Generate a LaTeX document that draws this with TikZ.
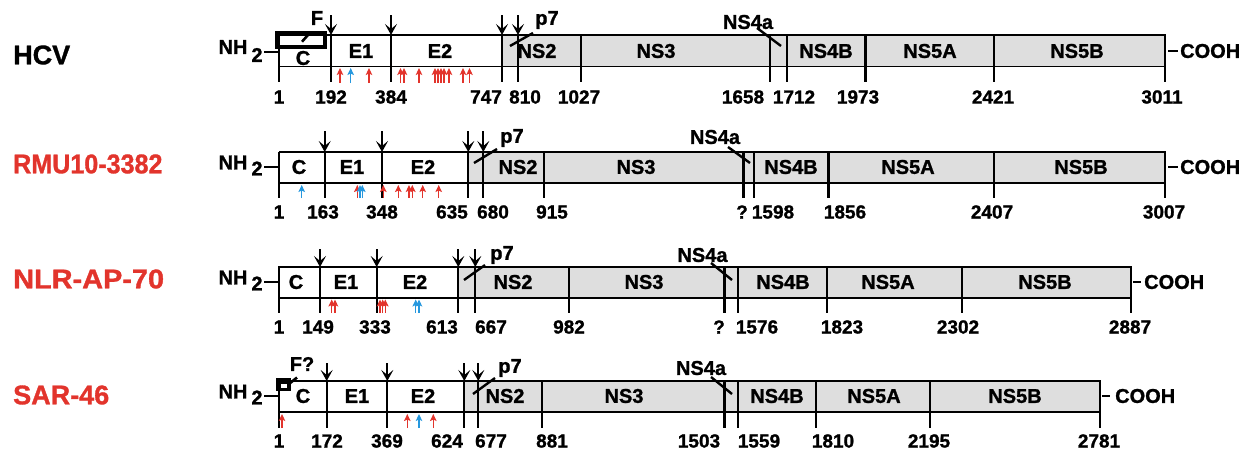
\documentclass[tikz,border=0pt]{standalone}
\usepackage{fontspec}
\setmainfont{Liberation Sans}[BoldFeatures={FakeBold=1.2}]
\usetikzlibrary{arrows.meta}
\definecolor{virred}{RGB}{226,52,44}
\definecolor{hitblue}{RGB}{38,152,222}
\definecolor{nsgray}{RGB}{222,222,222}

\begin{document}
\begin{tikzpicture}[x=1pt,y=-1pt,
  virus/.style={anchor=west,inner sep=0pt,font=\bfseries\fontsize{27}{27}\selectfont},
  dom/.style={inner sep=0pt,font=\bfseries\fontsize{20}{20}\selectfont},
  num/.style={inner sep=0pt,font=\bfseries\fontsize{19}{19}\selectfont},
  frame/.style={line width=1.6pt},
  bound/.style={line width=2.2pt},
  pointer/.style={line width=2.4pt},
  cleave/.style={line width=2.2pt,-{Stealth[length=11pt,width=12pt,inset=5pt]}},
  hit/.style={line width=1.4pt,-{Stealth[length=7pt,width=6.5pt,inset=1.5pt]}}]
\useasboundingbox (0,0) rectangle (1249,450);

%% HCV
\begin{scope}[shift={(0,35)}]
  \node[virus] (hcv) at (13,20) {HCV};
  \fill[nsgray] (502,0) rectangle (1165,31.5);
  \draw[frame] (279,0) rectangle (1165,31.5);
  \foreach \x in {279,331,391,502,518,581,770,787,865.5,994,1165}
    \draw[bound] (\x,0) -- (\x,47);
  \foreach \x/\t [count=\i] in {279/1,331/192,391/384,486/747,525/810,579/1027,743/1658,794/1712,858/1973,993/2421,1162/3011}
    \node[num] (hcv-n\i) at (\x,62) {\t};
  \foreach \x/\t [count=\i] in {361/E1,440/E2,537/NS2,656/NS3,826/NS4B,930/NS5A,1077/NS5B}
    \node[dom] (hcv-d\i) at (\x,16) {\t};
  \node[dom] (hcv-c) at (303,23) {C};
  \foreach \x in {331,391,502,518}
    \draw[cleave] (\x,-20) -- (\x,0);
  \foreach \x/\c in {340/virred,350.7/hitblue,369/virred,400.5/virred,404/virred,419/virred,435/virred,438/virred,441/virred,444/virred,449/virred,463/virred,469.5/virred}
    \draw[hit,\c] (\x,48) -- (\x,33);
  % F motif
  \draw[line width=4pt] (277,-2.5) rectangle (325,11.5);
  \draw[line width=2.6pt] (302,6.7) -- (310,-2.3);
  \node[dom] (hcv-f) at (317,-17) {F};
  % p7 and NS4a
  \draw[pointer] (510,11) -- (533,-2);
  \node[dom] (hcv-p7) at (547,-15) {p7};
  \draw[pointer] (757,-7) -- (781,11);
  \node[dom] (hcv-ns4a) at (748,-13) {NS4a};
  % termini
  \node[dom] (hcv-nh) at (233,12) {NH};
  \node[dom] (hcv-two) at (257,20) {2};
  \draw[frame] (264,17) -- (279,17);
  \draw[frame] (1168,16) -- (1178,16);
  \node[dom,anchor=west] (hcv-cooh) at (1180,16) {COOH};
\end{scope}

%% RMU10-3382
\begin{scope}[shift={(0,152)}]
  \node[virus,text=virred,xscale=0.93] (rmu) at (13,12) {RMU10-3382};
  \fill[nsgray] (468.3,0) rectangle (1165,31);
  \draw[frame] (279.3,0) rectangle (1165,31);
  \foreach \x in {279.3,324.7,382,468.3,483.3,544.3,743.5,754.2,828.5,994.3,1165}
    \draw[bound] (\x,0) -- (\x,46);
  \foreach \x/\t [count=\i] in {279/1,323/163,382/348,452/635,493/680,552/915,742/?,773/1598,845/1856,992/2407,1164/3007}
    \node[num] (rmu-n\i) at (\x,60) {\t};
  \foreach \x/\t [count=\i] in {299/C,352/E1,423/E2,518/NS2,636/NS3,791/NS4B,908/NS5A,1081/NS5B}
    \node[dom] (rmu-d\i) at (\x,15) {\t};
  \foreach \x in {324.7,382,468.3,483.3}
    \draw[cleave] (\x,-21) -- (\x,0);
  \foreach \x/\c in {301.7/hitblue,357.3/virred,360/hitblue,362.3/hitblue,383.3/virred,398.3/virred,409/virred,412.3/virred,422.7/virred,438.7/virred}
    \draw[hit,\c] (\x,46) -- (\x,33);
  % p7 and NS4a
  \draw[pointer] (474,11) -- (497,-3);
  \node[dom] (rmu-p7) at (512,-14) {p7};
  \draw[pointer] (728,-5) -- (750,11);
  \node[dom] (rmu-ns4a) at (715,-15) {NS4a};
  % termini
  \node[dom] (rmu-nh) at (233,10.5) {NH};
  \node[dom] (rmu-two) at (257,16.5) {2};
  \draw[frame] (264,15) -- (279.3,15);
  \draw[frame] (1168,15) -- (1178,15);
  \node[dom,anchor=west] (rmu-cooh) at (1180,15) {COOH};
\end{scope}

%% NLR-AP-70
\begin{scope}[shift={(0,267)}]
  \node[virus,text=virred,xscale=1.07] (nlr) at (13,12) {NLR-AP-70};
  \fill[nsgray] (458.3,0) rectangle (1131,31);
  \draw[frame] (279,0) rectangle (1131,31);
  \foreach \x in {279,320,376.7,458.3,475.3,568.7,724.4,738.3,827.3,961.7,1131}
    \draw[bound] (\x,0) -- (\x,46);
  \foreach \x/\t [count=\i] in {279/1,318/149,375/333,442/613,491/667,569/982,719/?,757/1576,842/1823,958/2302,1130/2887}
    \node[num] (nlr-n\i) at (\x,60) {\t};
  \foreach \x/\t [count=\i] in {296/C,346/E1,415/E2,513/NS2,644/NS3,783/NS4B,888/NS5A,1045/NS5B}
    \node[dom] (nlr-d\i) at (\x,15) {\t};
  \foreach \x in {320,376.7,458.3,475.3}
    \draw[cleave] (\x,-18) -- (\x,0);
  \foreach \x/\c in {331.7/virred,335/virred,380/virred,382.7/virred,385.3/virred,415.7/hitblue,419/hitblue}
    \draw[hit,\c] (\x,46) -- (\x,32.5);
  % p7 and NS4a
  \draw[pointer] (464,13) -- (485,-2);
  \node[dom] (nlr-p7) at (502,-12) {p7};
  \draw[pointer] (711,-4) -- (732,13);
  \node[dom] (nlr-ns4a) at (702.5,-12) {NS4a};
  % termini
  \node[dom] (nlr-nh) at (233,10.5) {NH};
  \node[dom] (nlr-two) at (257,16.5) {2};
  \draw[frame] (264,15) -- (279,15);
  \draw[frame] (1133,15) -- (1141,15);
  \node[dom,anchor=west] (nlr-cooh) at (1144,15) {COOH};
\end{scope}

%% SAR-46
\begin{scope}[shift={(0,381)}]
  \node[virus,text=virred] (sar) at (13,14) {SAR-46};
  \fill[nsgray] (464.3,0) rectangle (1100,31);
  \draw[frame] (279.3,0) rectangle (1100,31);
  \foreach \x in {279.3,326.7,387.3,464.3,478.3,541.7,724.4,738.3,815.8,929.9,1100}
    \draw[bound] (\x,0) -- (\x,47);
  \foreach \x/\t [count=\i] in {279/1,327/172,387/369,447/624,491/677,552/881,699/1503,759/1559,833/1810,929/2195,1099/2781}
    \node[num] (sar-n\i) at (\x,60) {\t};
  \foreach \x/\t [count=\i] in {303/C,357/E1,423/E2,505/NS2,624/NS3,777/NS4B,874/NS5A,1015/NS5B}
    \node[dom] (sar-d\i) at (\x,15) {\t};
  \foreach \x in {326.7,387.3,464.3,478.3}
    \draw[cleave] (\x,-18) -- (\x,0);
  \foreach \x/\c in {282/virred,407.3/virred,419/hitblue,433.3/virred}
    \draw[hit,\c] (\x,47) -- (\x,33);
  % F? motif
  \fill (276,-3) rectangle (290.5,10);
  \fill[white] (281,3) rectangle (286.5,6.5);
  \draw[line width=2.6pt] (289,3) -- (297,-3.5);
  \node[dom] (sar-f) at (302,-17) {F?};
  % p7 and NS4a
  \draw[pointer] (473,13) -- (495,-3);
  \node[dom] (sar-p7) at (510,-13) {p7};
  \draw[pointer] (711,-4) -- (732,13);
  \node[dom] (sar-ns4a) at (701,-13) {NS4a};
  % termini
  \node[dom] (sar-nh) at (233,10.5) {NH};
  \node[dom] (sar-two) at (257,16.5) {2};
  \draw[frame] (264,15) -- (279.3,15);
  \draw[frame] (1102,15) -- (1110,15);
  \node[dom,anchor=west] (sar-cooh) at (1115,15) {COOH};
\end{scope}
\end{tikzpicture}
\end{document}
